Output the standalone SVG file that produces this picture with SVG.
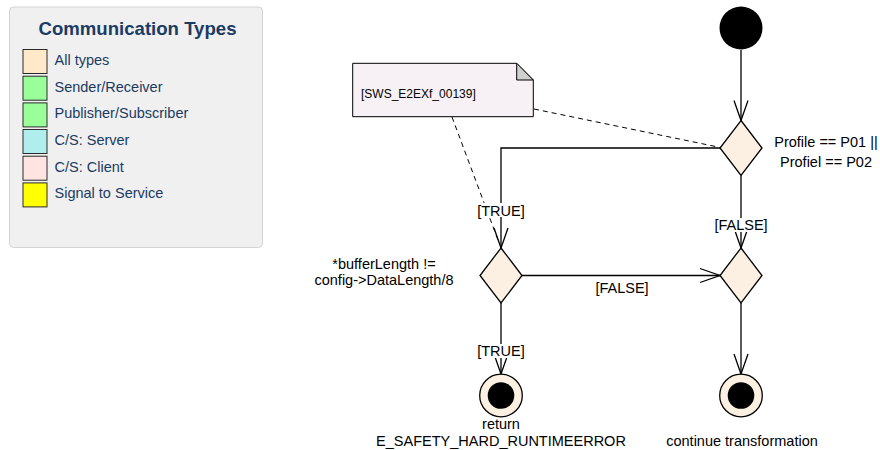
<svg xmlns="http://www.w3.org/2000/svg" width="880" height="450" viewBox="0 0 880 450">
<style>
  text { font-family: "Liberation Sans", Arial, sans-serif; fill: #000; }
  .lbl { font-size: 14.5px; }
  .mid { text-anchor: middle; }
  .leg { font-size: 14.5px; fill: #1b3b63; }
  .title { font-size: 18.6px; font-weight: bold; fill: #1b3b63; text-anchor: middle; }
  .sw { stroke: #2a2a2a; stroke-width: 1; }
  .dec { fill: #fbf0e1; stroke: #000; stroke-width: 1.3; }
  .edge { fill: none; stroke: #000; stroke-width: 1.3; marker-end: url(#arr); }
  .dash { fill: none; stroke: #000; stroke-width: 1; stroke-dasharray: 5 4; }
  .bg { fill: #fff; }
</style>
<defs>
  <marker id="arr" markerUnits="userSpaceOnUse" markerWidth="24" markerHeight="18" refX="21" refY="8" orient="auto" overflow="visible">
    <path d="M1,1 L21,8 L1,15" fill="none" stroke="#000" stroke-width="1.3"/>
  </marker>
</defs>

<g id="legend">
  <rect x="9.5" y="7" width="253" height="240.5" rx="4" fill="#f0f0f0" stroke="#d4d4d4" stroke-width="1"/>
  <text class="title" x="137.5" y="35">Communication Types</text>
  <rect class="sw" x="23" y="49.5" width="24" height="24" fill="#ffe9c9"/>
  <text class="leg" x="54.5" y="65">All types</text>
  <rect class="sw" x="23" y="76.2" width="24" height="24" fill="#99ff99"/>
  <text class="leg" x="54.5" y="91.7">Sender/Receiver</text>
  <rect class="sw" x="23" y="102.9" width="24" height="24" fill="#99ff99"/>
  <text class="leg" x="54.5" y="118.3">Publisher/Subscriber</text>
  <rect class="sw" x="23" y="129.5" width="24" height="24" fill="#b0eeee"/>
  <text class="leg" x="54.5" y="145">C/S: Server</text>
  <rect class="sw" x="23" y="156.2" width="24" height="24" fill="#ffe4e1"/>
  <text class="leg" x="54.5" y="171.7">C/S: Client</text>
  <rect class="sw" x="23" y="182.9" width="24" height="24" fill="#ffff00"/>
  <text class="leg" x="54.5" y="198.3">Signal to Service</text>
</g>

<g id="connectors">
  <line class="edge" x1="741" y1="50" x2="741" y2="120.5"/>
  <polyline class="edge" points="720,148 501,148 501,248"/>
  <line class="edge" x1="741" y1="175.5" x2="741" y2="248"/>
  <line class="edge" x1="522" y1="275.5" x2="720" y2="275.5"/>
  <line class="edge" x1="501" y1="303" x2="501" y2="374"/>
  <line class="edge" x1="741" y1="303" x2="741" y2="374"/>
  <line class="dash" x1="452" y1="117" x2="498" y2="240"/>
  <line class="dash" x1="534" y1="109" x2="718" y2="147"/>
  <rect class="bg" x="477" y="203" width="48" height="14"/>
  <text class="lbl mid" x="501" y="215.5">[TRUE]</text>
  <rect class="bg" x="713" y="218" width="56" height="14"/>
  <text class="lbl mid" x="741" y="230">[FALSE]</text>
  <text class="lbl mid" x="622" y="293">[FALSE]</text>
  <rect class="bg" x="477" y="344" width="48" height="14"/>
  <text class="lbl mid" x="501" y="356">[TRUE]</text>
</g>

<g id="note">
  <path d="M352.7,63.3 H516.7 L533.3,80 V116.7 H352.7 Z" fill="#f7f0f4" stroke="#000" stroke-width="1"/>
  <path d="M516.7,63.3 V80 H533.3 Z" fill="#d0d0d0" stroke="#000" stroke-width="1"/>
  <text x="361" y="98" style="font-size:12px">[SWS_E2EXf_00139]</text>
</g>

<g id="initial">
  <circle cx="741" cy="28" r="21.5" fill="#000"/>
</g>

<g id="decision1">
  <polygon class="dec" points="741,120.5 762,148 741,175.5 720,148"/>
  <text class="lbl mid" x="826" y="147">Profile == P01 ||</text>
  <text class="lbl mid" x="826" y="166.5">Profiel == P02</text>
</g>

<g id="decision2">
  <polygon class="dec" points="501,248 522,275.5 501,303 480,275.5"/>
  <text class="lbl mid" x="384" y="269">*bufferLength !=</text>
  <text class="lbl mid" x="384" y="285">config-&gt;DataLength/8</text>
</g>

<g id="decision3">
  <polygon class="dec" points="741,248 762,275.5 741,303 720,275.5"/>
</g>

<g id="final1">
  <circle cx="501" cy="395.5" r="21.3" fill="#fbf0e1" stroke="#000" stroke-width="1.3"/>
  <circle cx="501" cy="395.5" r="13.3" fill="#000"/>
  <text class="lbl mid" x="501" y="429">return</text>
  <text class="lbl mid" x="501" y="446">E_SAFETY_HARD_RUNTIMEERROR</text>
</g>

<g id="final2">
  <circle cx="741" cy="395.5" r="21.3" fill="#fbf0e1" stroke="#000" stroke-width="1.3"/>
  <circle cx="741" cy="395.5" r="13.3" fill="#000"/>
  <text class="lbl mid" x="742" y="446">continue transformation</text>
</g>
</svg>
